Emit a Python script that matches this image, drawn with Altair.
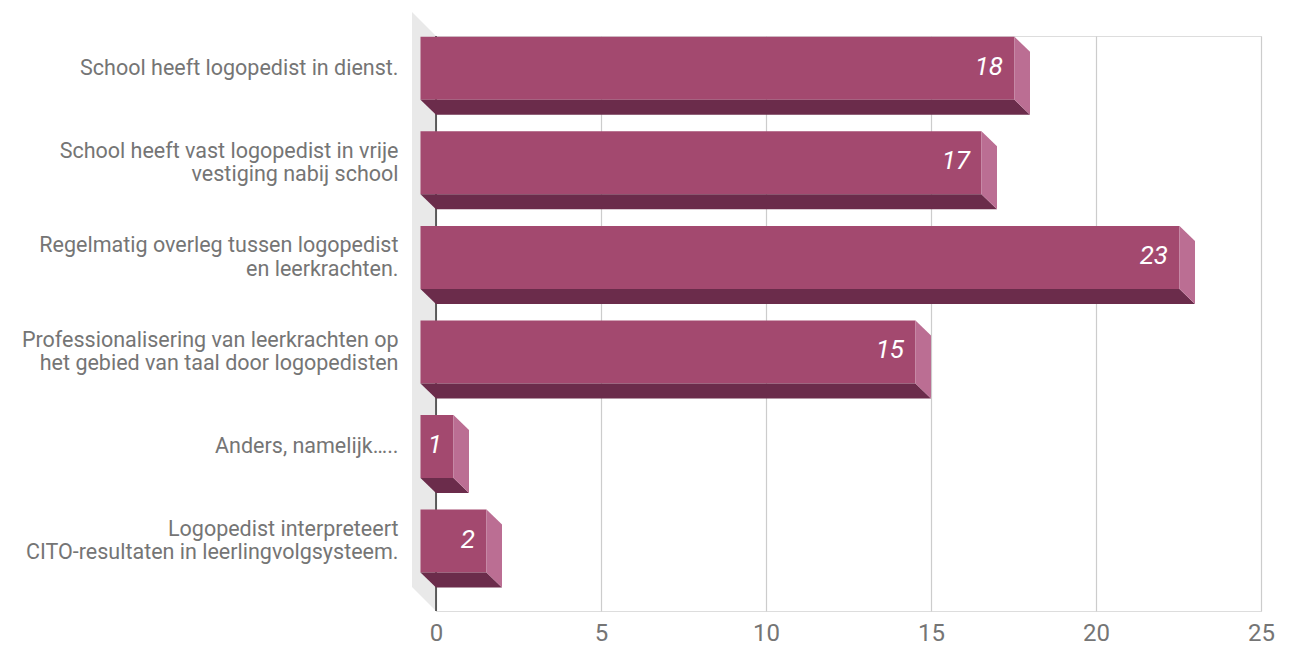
import json
import altair as alt
import pandas as pd

# ---- data ----
category_lines = [
    ["School heeft logopedist in dienst."],
    ["School heeft vast logopedist in vrije", "vestiging nabij school"],
    ["Regelmatig overleg tussen logopedist", "en leerkrachten."],
    ["Professionalisering van leerkrachten op", "het gebied van taal door logopedisten"],
    ["Anders, namelijk….."],
    ["Logopedist interpreteert", "CITO-resultaten in leerlingvolgsysteem."],
]
values = [18, 17, 23, 15, 1, 2]
x_ticks = [0, 5, 10, 15, 20, 25]

# ---- 3D geometry (in data units of the two scales) ----
PX_X = 33.0          # pixels per x unit
PX_Y = 94.56         # pixels per category step
PLOT_W, PLOT_H = 825, 575
YMAX = PLOT_H / PX_Y
DX = 15.5 / PX_X     # depth offset in x
DY = 15.0 / PX_Y     # depth offset in y
H = 31.5 / PX_Y      # half bar height
LINE_H = 23.5

n = len(values)
front, bottom, right, labels = [], [], [], []
for i, v in enumerate(values):
    c = i + 0.5
    front.append(dict(i=i, x=-DX, x2=v - DX, y=c - H - DY, y2=c + H - DY))
    bottom.append(dict(i=i, y=c + H - DY, x=-DX, x2=v - DX))
    bottom.append(dict(i=i, y=c + H, x=0.0, x2=float(v)))
    right.append(dict(i=i, x=v - DX, y=c - H - DY, y2=c + H - DY))
    right.append(dict(i=i, x=float(v), y=c - H, y2=c + H))
    labels.append(dict(i=i, x=float(v), y=c - DY, t=str(v)))

WX = 24 / PX_X
WY = 24 / PX_Y
wall = pd.DataFrame([dict(x=-WX, y=-WY, y2=YMAX - WY), dict(x=0.0, y=0.0, y2=YMAX)])
axis0 = pd.DataFrame([dict(x=0.0, y=0.0, y2=YMAX)])

lines_js = json.dumps(category_lines, ensure_ascii=False) + "[round(datum.value - 0.5)]"

x_scale = alt.Scale(domain=[0, 25], nice=False, zero=False)
y_scale = alt.Scale(domain=[0, YMAX], nice=False, zero=False, reverse=True)

x_axis = alt.Axis(values=x_ticks, grid=True, gridColor="#cccccc", gridWidth=1.2,
                  domain=False, ticks=False, labelFontSize=24, labelColor="#757575",
                  labelPadding=10, labelFlush=False, title=None, labelFont="Roboto")
y_axis = alt.Axis(values=[i + 0.5 for i in range(n)], labelExpr=lines_js, grid=False,
                  domain=False, ticks=False, labelFontSize=21.5, labelColor="#757575",
                  labelAlign="right", labelBaseline="middle", labelLineHeight=LINE_H,
                  labelOffset={"condition": {"test": "length(" + lines_js + ") > 1",
                                             "value": -15 - LINE_H / 2},
                               "value": -15},
                  labelPadding=38, title=None, labelFont="Roboto",
                  labelOverlap=False, labelLimit=600)

X = alt.X("x:Q", scale=x_scale, axis=x_axis)
Y = alt.Y("y:Q", scale=y_scale, axis=y_axis)

FRONT = "#a3496f"
BOTTOM = "#6b2c4b"
SIDE = "#bb6e93"

wall_layer = alt.Chart(wall).mark_area(color="#e9e9e9", orient="vertical").encode(
    x=X, y=Y, y2="y2:Q")
axis_layer = alt.Chart(axis0).mark_rule(color="#333333", strokeWidth=1.5).encode(
    x=X, y=Y, y2="y2:Q")
front_layer = alt.Chart(pd.DataFrame(front)).mark_rect(color=FRONT).encode(
    x=X, x2="x2:Q", y=Y, y2="y2:Q")
bottom_layer = alt.Chart(pd.DataFrame(bottom)).mark_area(color=BOTTOM, orient="horizontal").encode(
    y=Y, x=X, x2="x2:Q", detail="i:N")
right_layer = alt.Chart(pd.DataFrame(right)).mark_area(color=SIDE, orient="vertical").encode(
    x=X, y=Y, y2="y2:Q", detail="i:N")
text_layer = alt.Chart(pd.DataFrame(labels)).mark_text(
    align="right", baseline="middle", dx=-27, dy=-1.5, color="white",
    fontSize=26, fontStyle="italic", font="Roboto").encode(x=X, y=Y, text="t:N")

chart = alt.layer(wall_layer, axis_layer, front_layer, bottom_layer, right_layer, text_layer).properties(
    width=PLOT_W, height=PLOT_H, autosize="none",
    padding={"left": 436, "top": 36, "right": 31, "bottom": 37},
).configure_view(stroke=None).configure(font="Roboto", background="white")

chart.save("out.html", embed_options={"renderer": "svg", "actions": False})
